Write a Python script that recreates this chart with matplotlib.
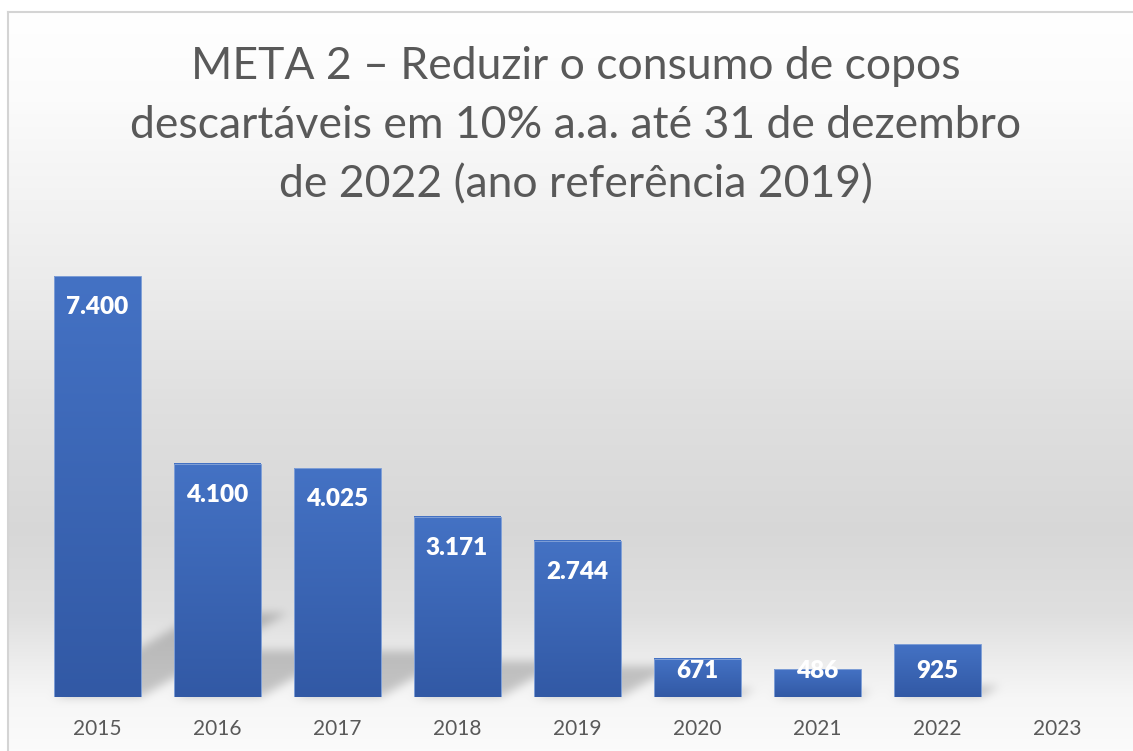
import numpy as np
import matplotlib
matplotlib.use("Agg")
import matplotlib.pyplot as plt
from matplotlib.path import Path

plt.rcParams['font.family'] = ['Lato', 'DejaVu Sans']

# ---------------- data ----------------
years = ['2015', '2016', '2017', '2018', '2019', '2020', '2021', '2022', '2023']
values = [7400, 4100, 4025, 3171, 2744, 671, 486, 925]   # 2023 has no value
value_labels = ['7.400', '4.100', '4.025', '3.171', '2.744', '671', '486', '925']
title_lines = ['META 2 \u2013 Reduzir o consumo de copos',
               'descart\u00e1veis em 10% a.a. at\u00e9 31 de dezembro',
               'de 2022 (ano refer\u00eancia 2019)']

# ---------------- figure ----------------
W, H, DPI = 1133, 751, 100
fig = plt.figure(figsize=(W / DPI, H / DPI), dpi=DPI)
fig.patch.set_facecolor('white')

bg = fig.add_axes([0, 0, 1, 1], zorder=0)
bg.set_xlim(0, W)
bg.set_ylim(H, 0)
bg.axis('off')

ax = fig.add_axes([37 / W, 1 - 697 / H, 1080 / W, 455 / H], zorder=1)
ax.patch.set_visible(False)
ax.set_xlim(-0.5, len(years) - 0.5)
ax.set_ylim(0, 8000)

bar_w = 0.725
xs = np.arange(len(values))

# ---------------- background gradient + shadows ----------------
rows = np.arange(H) + 0.5
stops_y = [11, 100, 200, 300, 400, 530, 615, 663, 697, 751]
stops_g = [1.0, 0.985, 0.953, 0.918, 0.878, 0.845, 0.875, 0.93, 0.965, 0.985]
prof = np.interp(rows, stops_y, stops_g)

# shadow mask, built from bar geometry via the axes transform
yy, xx = np.mgrid[0:H, 0:W]
pts = np.column_stack([xx.ravel() + 0.5, yy.ravel() + 0.5])
mask = np.zeros(H * W)
for i, v in enumerate(values):
    (x0p, b0), (x1p, t0) = ax.transData.transform([(i - bar_w / 2, 0), (i + bar_w / 2, v)])
    base = H - b0
    hpx = t0 - b0
    a, b = 0.35, 0.2
    poly = [(x0p, base), (x1p, base), (x1p + a * hpx, base - b * hpx), (x0p + a * hpx, base - b * hpx)]
    m = Path(poly).contains_points(pts)
    mask = np.maximum(mask, m.astype(float))
mask = mask.reshape(H, W)


def box_blur(arr, r, axis):
    k = 2 * r + 1
    pad = [(0, 0), (0, 0)]
    pad[axis] = (r + 1, r)
    p = np.pad(arr, pad, mode='edge')
    c = np.cumsum(p, axis=axis)
    if axis == 0:
        return (c[k:, :] - c[:-k, :]) / k
    return (c[:, k:] - c[:, :-k]) / k


sh = mask
for _ in range(3):
    sh = box_blur(sh, 4, 0)
    sh = box_blur(sh, 4, 1)

gray = prof[:, None] * (1 - 0.2 * sh)
gray[:11, :] = 1.0
gray[:, :7] = 1.0
img = np.dstack([gray, gray, gray])
bg.imshow(img, extent=(0, W, H, 0), interpolation='nearest', aspect='auto', zorder=0)
bg.plot([7.5, W], [11.5, 11.5], color='#d4d4d4', lw=1.5, zorder=1)
bg.plot([7.5, 7.5], [11.5, H], color='#d4d4d4', lw=1.5, zorder=1)

# ---------------- bars (gradient fill) ----------------
top_c = np.array([68, 114, 196]) / 255
bot_c = np.array([50, 89, 165]) / 255
tt = np.linspace(0, 1, 256)[:, None]
grad = (top_c[None, :] * (1 - tt) + bot_c[None, :] * tt)[:, None, :]

bars = ax.bar(xs, values, width=bar_w, color='#4472C4', edgecolor='none', zorder=2)
for i, v in enumerate(values):
    ax.imshow(grad, extent=(i - bar_w / 2, i + bar_w / 2, 0, v), aspect='auto',
              interpolation='bilinear', zorder=3)
ax.bar(xs, values, width=bar_w, fill=False, edgecolor='#7f9fd6', linewidth=0.7, zorder=4)
ax.set_xlim(-0.5, len(years) - 0.5)
ax.set_ylim(0, 8000)

# ---------------- value labels ----------------
ppu = ax.get_window_extent().height / 8000.0
for i, (v, lab) in enumerate(zip(values, value_labels)):
    y = max(v - 29 / ppu, 27.5 / ppu)
    ax.text(i, y, lab, ha='center', va='center_baseline', color='white',
            fontsize=17.5, fontweight='heavy', zorder=5)

# ---------------- axes styling ----------------
ax.set_xticks(range(len(years)))
ax.set_xticklabels(years)
ax.tick_params(axis='x', length=0, pad=16, labelsize=15, labelcolor='#595959')
ax.set_yticks([])
for s in ax.spines.values():
    s.set_visible(False)

# ---------------- title ----------------
for yb, line in zip([79, 138, 197], title_lines):
    bg.text(576, yb, line, ha='center', va='baseline', fontsize=32,
            color='#595959', zorder=5)

fig.savefig('out.png', dpi=DPI)
